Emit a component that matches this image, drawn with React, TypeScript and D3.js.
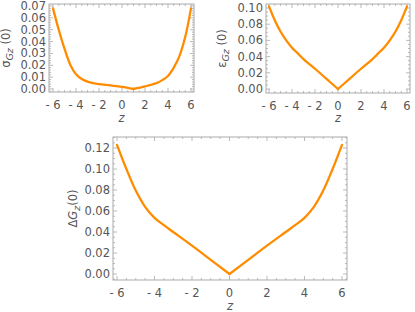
import React from "react";
import * as d3 from "d3";

const zLeft = [-6, -5.5, -5, -4.5, -4, -3.5, -3, -2.5, -2, -1, 0, 1, 2, 3, 3.5, 4, 4.5, 5, 5.5, 6];
const sigmaVals = [0.068, 0.05, 0.034, 0.0205, 0.0125, 0.0085, 0.0062, 0.0049, 0.0041, 0.003, 0.0018, 0.0, 0.0022, 0.005, 0.0075, 0.011, 0.018, 0.028, 0.044, 0.068];

const zSym = [-6, -5.5, -5, -4.5, -4, -3.5, -3, -2, -1, 0, 1, 2, 3, 3.5, 4, 4.5, 5, 5.5, 6];
const epsVals = [0.102, 0.085, 0.071, 0.06, 0.051, 0.044, 0.037, 0.025, 0.0125, 0, 0.0125, 0.025, 0.037, 0.044, 0.051, 0.06, 0.071, 0.085, 0.102];
const deltaVals = [0.123, 0.1, 0.0795, 0.064, 0.0535, 0.0465, 0.04, 0.027, 0.0135, 0, 0.0135, 0.027, 0.04, 0.0465, 0.0535, 0.064, 0.0795, 0.1, 0.123];

const xTicks = [-6, -4, -2, 0, 2, 4, 6];
const yTicks1 = [0, 0.01, 0.02, 0.03, 0.04, 0.05, 0.06, 0.07];
const yTicks2 = [0, 0.02, 0.04, 0.06, 0.08, 0.1];
const yTicks3 = [0, 0.02, 0.04, 0.06, 0.08, 0.1, 0.12];

const FONT = "DejaVu Sans, sans-serif";
const TXT = "#555";
const FRAME = "#aaa";
const ORANGE = "#ff8c00";
const FS = 11.5;

type PanelProps = {
  frame: [number, number, number, number];
  xr: [number, number];
  yr: [number, number];
  yd: [number, number];
  xs: number[];
  ys: number[];
  yTicks: number[];
  yMinor: number;
  yLabel: React.ReactNode;
  labelX: number;
  zDy: number;
  fmt: (v: number) => string;
};

function Panel(p: PanelProps) {
  const [L, T, R, B] = p.frame;
  const x = d3.scaleLinear().domain([-6, 6]).range(p.xr);
  const y = d3.scaleLinear().domain(p.yd).range(p.yr);
  const xDom = [x.invert(L), x.invert(R)];
  const yDom = [y.invert(B), y.invert(T)];
  const xMinor = d3.range(Math.ceil(xDom[0] / 0.5) * 0.5, xDom[1] + 1e-9, 0.5);
  const yMinor = d3.range(Math.ceil(yDom[0] / p.yMinor) * p.yMinor, yDom[1] + 1e-12, p.yMinor);
  const pts: [number, number][] = p.xs.map((v, i) => [v, p.ys[i]]);
  const minIdx = d3.minIndex(p.ys);
  const segs = [pts.slice(0, minIdx + 1), pts.slice(minIdx)];
  const line = d3
    .line<[number, number]>()
    .x((d) => x(d[0]))
    .y((d) => y(d[1]))
    .curve(d3.curveCatmullRom.alpha(0.5));
  const isMajorX = (v: number) => Math.abs(v / 2 - Math.round(v / 2)) < 1e-6;
  const yMajStep = p.yTicks[1] - p.yTicks[0];
  const isMajorY = (v: number) => Math.abs(v / yMajStep - Math.round(v / yMajStep)) < 1e-6;
  const ticks: React.ReactNode[] = [];
  xMinor.forEach((v, i) => {
    const len = isMajorX(v) ? 4 : 2;
    const px = x(v);
    ticks.push(<line key={"xb" + i} x1={px} x2={px} y1={B} y2={B - len} stroke={FRAME} strokeWidth={0.8} />);
    ticks.push(<line key={"xt" + i} x1={px} x2={px} y1={T} y2={T + len} stroke={FRAME} strokeWidth={0.8} />);
  });
  yMinor.forEach((v, i) => {
    const len = isMajorY(v) ? 4 : 2;
    const py = y(v);
    ticks.push(<line key={"yl" + i} x1={L} x2={L + len} y1={py} y2={py} stroke={FRAME} strokeWidth={0.8} />);
    ticks.push(<line key={"yr" + i} x1={R} x2={R - len} y1={py} y2={py} stroke={FRAME} strokeWidth={0.8} />);
  });
  const midY = (T + B) / 2;
  return (
    <g>
      <rect x={L} y={T} width={R - L} height={B - T} fill="none" stroke={FRAME} strokeWidth={1} />
      {ticks}
      {segs.map((s, i) => (
        <path key={"s" + i} d={line(s) || ""} fill="none" stroke={ORANGE} strokeWidth={2.3} strokeLinejoin="round" strokeLinecap="round" />
      ))}
      {xTicks.map((v) => (
        <text key={"xl" + v} x={x(v)} y={B + 17} textAnchor="middle" fontSize={FS} fill={TXT} fontFamily={FONT}>
          {v < 0 ? "- " + Math.abs(v) : String(v)}
        </text>
      ))}
      {p.yTicks.map((v) => (
        <text key={"yl" + v} x={L - 3} y={y(v) + 4} textAnchor="end" fontSize={FS} fill={TXT} fontFamily={FONT}>
          {p.fmt(v)}
        </text>
      ))}
      <text x={(L + R) / 2} y={B + p.zDy} textAnchor="middle" fontSize={FS} fill={TXT} fontFamily={FONT} fontStyle="italic">
        z
      </text>
      <text
        transform={`translate(${p.labelX},${midY}) rotate(-90)`}
        textAnchor="middle"
        fontSize={FS}
        fill={TXT}
        fontFamily={FONT}
      >
        {p.yLabel}
      </text>
    </g>
  );
}

export default function App() {
  const f2 = (v: number) => v.toFixed(2);
  return (
    <svg width={415} height={312} style={{ position: "absolute", left: 0, top: 0, background: "#fff" }}>
      <Panel
        frame={[49, 4, 194, 92]}
        xr={[53, 191]}
        yr={[89, 6]}
        yd={[0, 0.07]}
        xs={zLeft}
        ys={sigmaVals}
        yTicks={yTicks1}
        yMinor={0.002}
        fmt={f2}
        labelX={10}
        zDy={30}
        yLabel={
          <>
            <tspan>σ</tspan>
            <tspan fontStyle="italic" fontSize={9.5} dy={3}>Gz</tspan>
            <tspan dy={-3}> (0)</tspan>
          </>
        }
      />
      <Panel
        frame={[266, 4, 410, 93]}
        xr={[269, 407]}
        yr={[89, 8]}
        yd={[0, 0.1]}
        xs={zSym}
        ys={epsVals}
        yTicks={yTicks2}
        yMinor={0.005}
        fmt={f2}
        labelX={226}
        zDy={29}
        yLabel={
          <>
            <tspan>ε</tspan>
            <tspan fontStyle="italic" fontSize={9.5} dy={3}>Gz</tspan>
            <tspan dy={-3}> (0)</tspan>
          </>
        }
      />
      <Panel
        frame={[113, 137, 347, 280]}
        xr={[117, 342]}
        yr={[274, 148]}
        yd={[0, 0.12]}
        xs={zSym}
        ys={deltaVals}
        yTicks={yTicks3}
        yMinor={0.005}
        fmt={f2}
        labelX={77}
        zDy={29.5}
        yLabel={
          <>
            <tspan>Δ</tspan>
            <tspan fontStyle="italic">G</tspan>
            <tspan fontStyle="italic" fontSize={9.5} dy={3}>z</tspan>
            <tspan dy={-3}>(0)</tspan>
          </>
        }
      />
    </svg>
  );
}
